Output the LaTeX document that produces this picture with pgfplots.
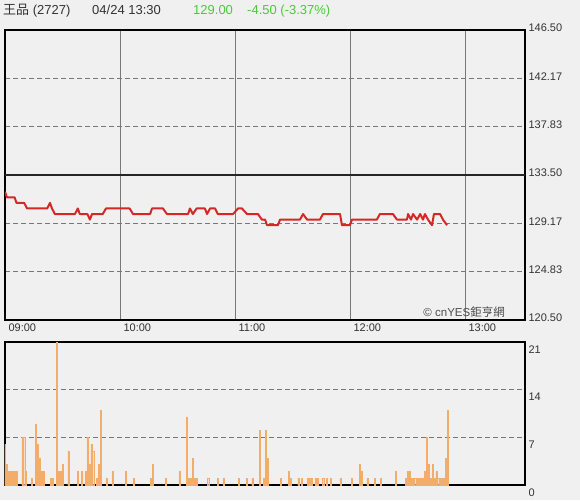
\documentclass[border=0pt]{standalone}
\usepackage{pgfplots}
\pgfplotsset{compat=1.18}
\usepackage{fontspec}
\setmainfont{Liberation Sans}
\newfontfamily\cjk{Noto Sans CJK TC}
\definecolor{bg}{HTML}{F0F0F0}
\definecolor{txt}{HTML}{333333}
\definecolor{up}{HTML}{4CC83C}
\definecolor{price}{HTML}{D42828}
\definecolor{volfill}{HTML}{FAD3B2}
\definecolor{voledge}{HTML}{F3AD68}
\definecolor{gridc}{HTML}{787878}

\pgfplotsset{
  panel/.style={
    scale only axis, width=520pt, xmin=0, xmax=271.3,
    axis line style={black, line width=1.3pt},
    axis background/.style={fill=bg},
    major tick length=0pt,
    tick label style={font=\fontsize{11}{13}\selectfont, text=txt},
    /pgf/number format/assume math mode=true,
    yticklabel pos=right,
    ymajorgrids,
    major y grid style={gridc, dash pattern=on 5pt off 3pt, line width=1.5pt},
  }
}

\begin{document}
\begin{tikzpicture}[x=1pt,y=1pt]
\fill[bg] (0,0) rectangle (580,500);

% header
\node[anchor=base west, inner sep=0, font=\fontsize{13}{15}\selectfont, text=txt] at (3,485) {{\cjk 王品} (2727)};
\node[anchor=base west, inner sep=0, font=\fontsize{13}{15}\selectfont, text=txt] at (92,485) {04/24 13:30};
\node[anchor=base west, inner sep=0, font=\fontsize{13}{15}\selectfont, text=up] at (193,485) {129.00};
\node[anchor=base west, inner sep=0, font=\fontsize{13}{15}\selectfont, text=up] at (247,485) {-4.50 (-3.37\%)};

% price panel
\begin{axis}[panel,
  at={(5pt,180pt)}, anchor=south west, height=290pt,
  ymin=120.5, ymax=146.5,
  xtick={0,60,120,180,240},
  xticklabels={09:00,10:00,11:00,12:00,13:00},
  xticklabel style={anchor=north west, xshift=0pt},
  xmajorgrids, major x grid style={gridc, line width=1pt},
  ytick={120.5,124.83,129.17,137.83,142.17,146.5},
  yticklabels={120.50,124.83,129.17,137.83,142.17,146.50},
  yticklabel style={anchor=west, yshift=2pt},
  extra y ticks={133.5}, extra y tick labels={133.50},
  extra y tick style={ymajorgrids=false},
]
\draw[black!85, line width=1.4pt] (axis cs:0,133.5) -- (axis cs:271.3,133.5);
\addplot[price, line width=2pt, line join=round] coordinates {
(0,132.0)(1,131.5)(5,131.5)(6,131.0)(10,131.0)(11.5,130.5)(22,130.5)(23.5,131.0)
(24.5,130.5)(26,130.0)(36.5,130.0)(38,130.5)(39,130.0)(43,130.0)(44.3,129.5)
(45.4,130.0)(51,130.0)(52.7,130.5)(65,130.5)(66.8,130.0)(75.7,130.0)(76.7,130.5)
(82.4,130.5)(84.5,130.0)(95.5,130.0)(96.5,130.5)(98,130.0)(100,130.5)(104.3,130.5)
(105.4,130.0)(107,130.5)(109.6,130.5)(111,130.0)(119,130.0)(121.6,130.5)(123.6,130.5)
(126.3,130.0)(132,130.0)(134,129.5)(135.7,129.5)(136.7,129.0)(142.4,129.0)(143.5,129.5)
(153.9,129.5)(155.5,130.0)(157.6,129.5)(164.3,129.5)(165.9,130.0)(174.8,130.0)
(175.8,129.0)(180,129.0)(181,129.5)(194,129.5)(195.6,130.0)(202.4,130.0)(204.5,129.5)
(209.7,129.5)(210.3,130.0)(211.8,129.5)(212.9,130.0)(215,129.5)(216.6,130.0)
(218.1,129.5)(219.1,130.0)(220.7,129.5)(222.8,129.0)(223.8,130.0)(227,130.0)
(228.5,129.5)(230.6,129.0)
};
\end{axis}

% volume panel
\begin{axis}[panel,
  at={(5pt,15pt)}, anchor=south west, height=143pt,
  ymin=0, ymax=21,
  xtick=\empty,
  ytick={0,7,14,21},
  yticklabel style={anchor=north west},
]
\addplot[ybar, bar width=1.1pt, fill=volfill, draw=voledge, line width=0.4pt] coordinates {
(0,6)(1,3)(2,2)(3,2)(4,2)(5,2)(6,2)(9,7)(10,7)(11,2)(14,1)(16,9)(17,6)(18,4)(19,2)(20,2)
(24,1)(25,1)(27,21)(28,2)(29,2)(30,3)(33,5)(38,2)(40,2)(42,2)(43,7)(44,3)(45,6)(46,5)
(48,1)(49,3)(50,11)(53,1)(56,2)(63,2)(67,1)(76,1)(77,3)(84,1)(91,2)(95,10)(96,1)(97,1)
(98,4)(99,1)(100,1)(106,1)(111,1)(114,1)(122,1)(126,1)(129,1)(133,8)(135,1)(136,8)(137,4)
(144,1)(148,2)(149,1)(153,1)(155,1)(158,1)(159,1)(160,1)(162,1)(163,1)(166,1)(168,1)
(170,1)(175,1)(181,1)(185,3)(186,2)(189,1)(193,1)(196,1)(204,2)(209,1)(210,2)(211,2)
(212,1)(213,1)(214,1)(215,1)(216,1)(217,1)(218,1)(219,2)(220,7)(221,3)(222,1)(223,3)
(224,1)(225,2)(226,1)(227,1)(228,1)(229,1)(230,4)(231,11)
};
\end{axis}

% watermark
\node[anchor=base east, inner sep=0, font=\fontsize{11.5}{13}\selectfont, text=black!70] at (505,183) {\textcopyright\ cnYES{\cjk 鉅亨網}};
\end{tikzpicture}
\end{document}
